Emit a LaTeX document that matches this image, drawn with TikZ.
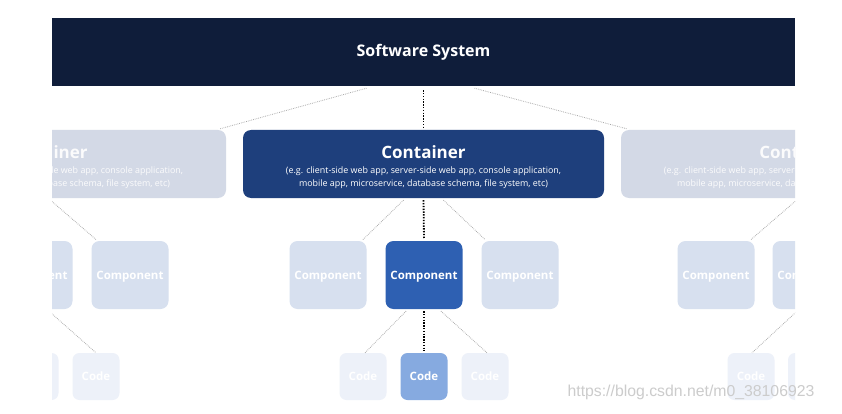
\documentclass[tikz,border=0pt]{standalone}
\usepackage{fontspec}
\setmainfont{Open Sans}
\newfontfamily\wmfont{Liberation Sans}
\usetikzlibrary{calc, positioning}
\definecolor{cSys}{HTML}{0F1D3A}
\definecolor{cCont}{HTML}{1E3F7C}
\definecolor{cComp}{HTML}{2E60B2}
\definecolor{cCode}{HTML}{86AAE0}
\definecolor{cFadeCont}{HTML}{D3D9E6}
\definecolor{cFadeComp}{HTML}{D7E0EF}
\definecolor{cFadeCode}{HTML}{EDF1F9}
\definecolor{cLink}{HTML}{A6A6A6}
\newcommand{\contlabel}{\fontsize{17}{19}\selectfont\bfseries\rule{0pt}{19pt}Container\\[3pt]
  (e.g. client-side web app, server-side web app, console application,\\
  mobile app, microservice, database schema, file system, etc)}

\begin{document}
\begin{tikzpicture}[x=1pt, y=-1pt,
    sysbox/.style={fill=cSys, text=white, minimum width=743pt, minimum height=68pt,
                   inner sep=0pt, font=\fontsize{16}{18}\selectfont\bfseries},
    contbox/.style={rounded corners=8pt, minimum width=361pt, minimum height=68pt,
                    inner sep=0pt, align=center, text=white,
                    font=\fontsize{8.9}{12.3}\selectfont},
    compbox/.style={rounded corners=8pt, minimum width=77pt, minimum height=68pt,
                    inner sep=0pt, text=white, text depth=0pt,
                    font=\fontsize{11.5}{13}\selectfont\bfseries},
    codebox/.style={rounded corners=7pt, minimum width=47pt, minimum height=47pt,
                    inner sep=0pt, text=white, text depth=0pt,
                    font=\fontsize{11.5}{13}\selectfont\bfseries},
    faint/.style={draw=cLink, line width=0.8pt, dash pattern=on 0.7pt off 1.1pt},
    focus/.style={draw=black, line width=1.8pt, dash pattern=on 1.4pt off 1.4pt}]
  \useasboundingbox[fill=white] (0,0) rectangle (842,414);
  \begin{scope}
    \clip (52,0) rectangle (795,414);
    % software system band
    \node[sysbox] (sys) at (423.5,52) {Software System};
    % containers
    \node[contbox, fill=cFadeCont, text=white!90!cFadeCont] (contL) at (45.5,164) {\contlabel};
    \node[contbox, fill=cCont] (contC) at (423.5,164) {\contlabel};
    \node[contbox, fill=cFadeCont, text=white!90!cFadeCont] (contR) at (801.5,164) {\contlabel};
    % components
    \node[compbox, fill=cFadeComp] (compL2) at (34,275) {Component};
    \node[compbox, fill=cFadeComp] (compL3) at (130,275) {Component};
    \node[compbox, fill=cFadeComp] (compA) at (328,275) {Component};
    \node[compbox, fill=cComp] (compB) at (424,275) {Component};
    \node[compbox, fill=cFadeComp] (compC) at (520,275) {Component};
    \node[compbox, fill=cFadeComp] (compR1) at (716,275) {Component};
    \node[compbox, fill=cFadeComp] (compR2) at (811,275) {Component};
    % code
    \node[codebox, fill=cFadeCode] (codeL2) at (35,376.5) {Code};
    \node[codebox, fill=cFadeCode] (codeL3) at (96,376.5) {Code};
    \node[codebox, fill=cFadeCode] (codeA) at (363,376.5) {Code};
    \node[codebox, fill=cCode] (codeB) at (424,376.5) {Code};
    \node[codebox, fill=cFadeCode] (codeC) at (485,376.5) {Code};
    \node[codebox, fill=cFadeCode] (codeR1) at (751,376.5) {Code};
    \node[codebox, fill=cFadeCode] (codeR2) at (811.5,376.5) {Code};
    % links
    \draw[focus, shorten <=4pt, shorten >=3pt] (sys.south) -- (contC.north);
    \draw[faint] ($(sys.south)+(-57,2)$) -- ($(contL.north east)+(-6,-1)$);
    \draw[faint] ($(sys.south)+(51,2)$) -- ($(contR.north west)+(6,-1)$);
    \draw[focus, shorten <=2pt, shorten >=2pt] (contC.south) -- (compB.north);
    \draw[faint] ($(contC.south)+(-20,2)$) -- ($(compA.north east)+(-4,-1)$);
    \draw[faint] ($(contC.south)+(20,2)$) -- ($(compC.north west)+(4,-1)$);
    \draw[faint] ($(contL.south)+(5,2)$) -- ($(compL3.north west)+(5,-1)$);
    \draw[faint] ($(contR.south)+(-5,2)$) -- ($(compR1.north east)+(-4,-1)$);
    \draw[focus, shorten <=2pt, shorten >=2pt] (compB.south) -- (codeB.north);
    \draw[faint] ($(compB.south)+(-18,2)$) -- ($(codeA.north)+(2,0)$);
    \draw[faint] ($(compB.south)+(17,2)$) -- ($(codeC.north)+(2,0)$);
    \draw[faint] ($(compL2.south)+(15,2)$) -- (codeL3.north);
    \draw[faint] ($(compR2.south)+(-14,2)$) -- ($(codeR1.north)+(1,0)$);
  \end{scope}
  % watermark
  \node[font=\wmfont\fontsize{15.8}{17}\selectfont, text=black!20] (mark) at (691,392) {https://blog.csdn.net/m0\_38106923};
\end{tikzpicture}
\end{document}
